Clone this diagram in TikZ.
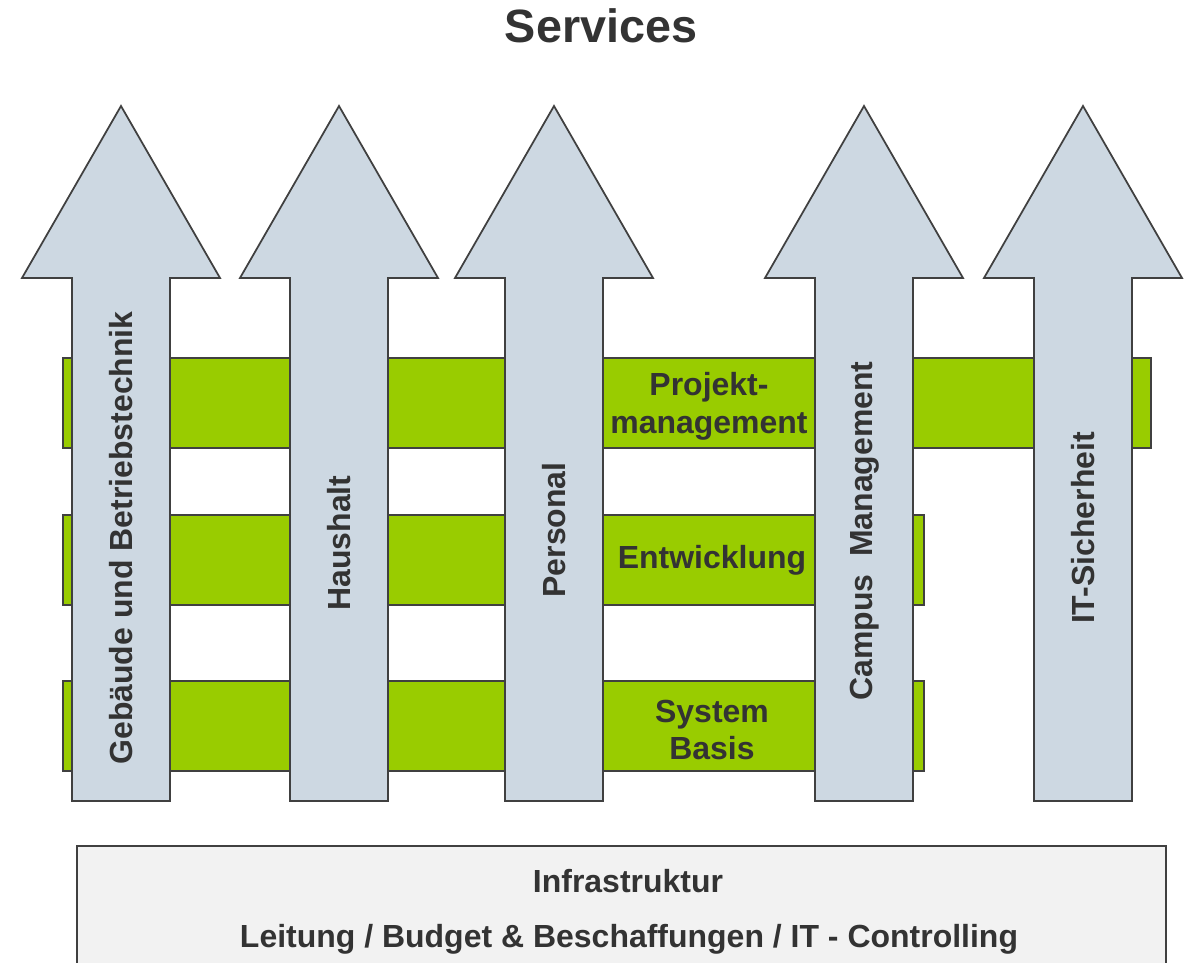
\documentclass[tikz,border=0pt]{standalone}
\usepackage{fontspec}
\setmainfont{Liberation Sans}
\usetikzlibrary{positioning}
\definecolor{balkengruen}{HTML}{99CC00}
\definecolor{pfeilblau}{HTML}{CDD8E2}
\definecolor{kastengrau}{HTML}{F2F2F2}
\definecolor{randgrau}{HTML}{404040}
\definecolor{schrift}{HTML}{333333}

\begin{document}
\begin{tikzpicture}[x=0.02cm, y=-0.02cm, every node/.style={text=schrift, font=\bfseries\fontsize{18.2}{21.5}\selectfont}]
  \tikzset{
    balken/.style={rectangle, draw=randgrau, line width=1pt, fill=balkengruen, inner sep=0pt, anchor=north west, minimum height=1.8cm},
    pfeil/.style={draw=randgrau, line width=1pt, fill=pfeilblau, line join=miter},
    pfeiltext/.style={rotate=90, inner sep=0pt},
    balkentext/.style={align=center, inner sep=0pt},
    kasten/.style={draw=randgrau, line width=1pt, fill=kastengrau},
    titel/.style={font=\bfseries\fontsize{26.6}{30}\selectfont, inner sep=0pt}
  }
  \useasboundingbox (0,0) rectangle (1188,963);

  \node[titel] (services) at (601,26) {Services};

  % Querbalken
  \node[balken, minimum width=21.76cm] (projektbalken) at (62,357) {};
  \node[balken, minimum width=17.22cm] (entwicklungsbalken) at (62,514) {};
  \node[balken, minimum width=17.22cm] (systembalken) at (62,680) {};

  % Pfeile
  \draw[pfeil] (121,801) -- ++(-49,0) -- ++(0,-523) -- ++(-50,0) -- (121,106) -- ++(99,172) -- ++(-50,0) -- ++(0,523) -- cycle;
  \draw[pfeil] (339,801) -- ++(-49,0) -- ++(0,-523) -- ++(-50,0) -- (339,106) -- ++(99,172) -- ++(-50,0) -- ++(0,523) -- cycle;
  \draw[pfeil] (554,801) -- ++(-49,0) -- ++(0,-523) -- ++(-50,0) -- (554,106) -- ++(99,172) -- ++(-50,0) -- ++(0,523) -- cycle;
  \draw[pfeil] (864,801) -- ++(-49,0) -- ++(0,-523) -- ++(-50,0) -- (864,106) -- ++(99,172) -- ++(-50,0) -- ++(0,523) -- cycle;
  \draw[pfeil] (1083,801) -- ++(-49,0) -- ++(0,-523) -- ++(-50,0) -- (1083,106) -- ++(99,172) -- ++(-50,0) -- ++(0,523) -- cycle;

  \node[pfeiltext] (gebaeude) at (121,538) {Gebäude und Betriebstechnik};
  \node[pfeiltext] (haushalt) at (339,543) {Haushalt};
  \node[pfeiltext] (personal) at (554,530) {Personal};
  \node[pfeiltext] (campus) at (865,531) {Campus\ \ Management};
  \node[pfeiltext] (itsicherheit) at (1083,528) {IT-Sicherheit};

  \node[balkentext] (projekt) at (709,406) {Projekt-\\management};
  \node[balkentext] (entwicklung) at (712,560) {Entwicklung};
  \node[balkentext] (system) at (712,730) {System\\Basis};

  % Infrastruktur
  \draw[kasten] (77,975) |- (1166,846) -- (1166,975);
  \node (infrastruktur) at (628,881) {Infrastruktur};
  \node (leitung) at (629,939) {Leitung / Budget \& Beschaffungen / IT - Controlling};
\end{tikzpicture}
\end{document}
